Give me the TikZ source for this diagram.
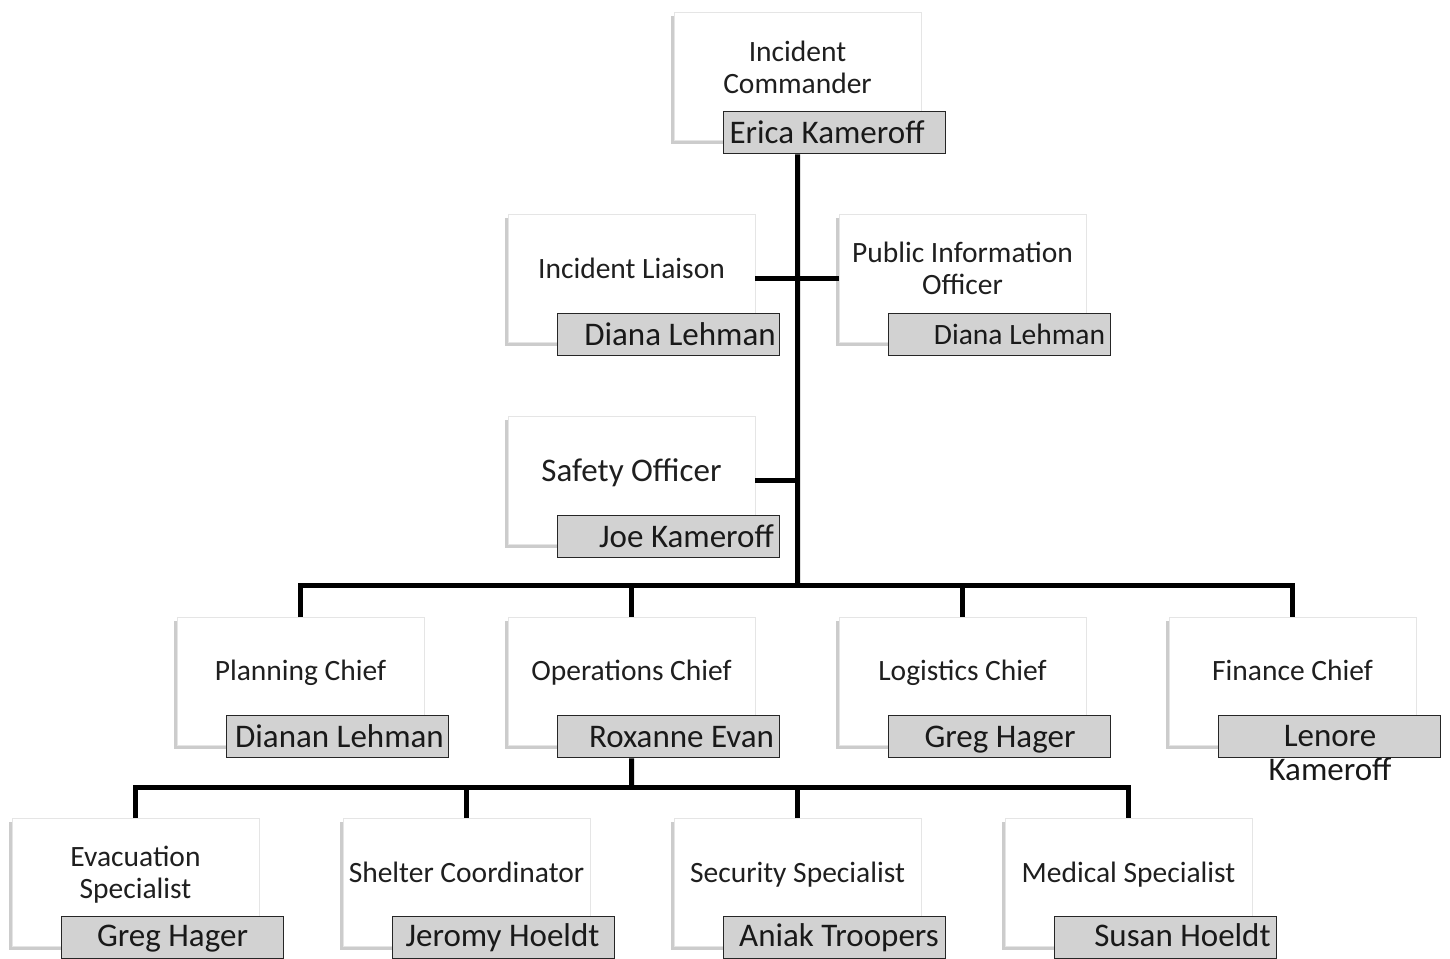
\documentclass[tikz,border=0pt]{standalone}
\usepackage{fontspec}
\setmainfont{Carlito}
\usetikzlibrary{shadows}
\definecolor{namegray}{RGB}{210,210,210}
\tikzset{
  rolebox/.style={draw=black!10, fill=white, minimum width=247pt, minimum height=128pt, inner sep=0pt, anchor=north west,
    drop shadow={shadow xshift=-3pt, shadow yshift=-4pt, fill=black!50, opacity=0.4}},
  namebox/.style={draw=black!85, line width=1.4pt, fill=namegray, minimum width=222pt, minimum height=42pt, inner sep=0pt, anchor=north west},
  roletitle/.style={font=\fontsize{29.5}{32}\selectfont, text=black!88, align=center, inner sep=0pt},
  persontext/.style={font=\fontsize{33}{34}\selectfont, text=black!90, align=center, inner sep=0pt},
  orglink/.style={line width=5pt, draw=black, line join=miter},
}
\begin{document}
\begin{tikzpicture}[x=1pt,y=-1pt]
\useasboundingbox (0,0) rectangle (1450,958);
% Incident Commander
\node[rolebox] (ic) at (674,12) {};
\node[roletitle] (ict) at (797.5,67) {Incident\\Commander};
\node[namebox] (icn) at (723,111) {};
\node[persontext, anchor=base] (icp) at (827,143) {Erica Kameroff};
% Incident Liaison
\node[rolebox] (li) at (508,214) {};
\node[roletitle, anchor=base] (lit) at (631.5,278) {Incident Liaison};
\node[namebox] (lin) at (557,313) {};
\node[persontext, anchor=base] (lip) at (680,345) {Diana Lehman};
% Public Information Officer
\node[rolebox] (pio) at (839,214) {};
\node[roletitle] (piot) at (962.5,268) {Public Information\\Officer};
\node[namebox] (pion) at (888,313) {};
\node[persontext, anchor=base, font=\fontsize{29.5}{32}\selectfont] (piop) at (1019.5,344) {Diana Lehman};
% Safety Officer
\node[rolebox] (so) at (508,416) {};
\node[roletitle, anchor=base, font=\fontsize{33}{34}\selectfont] (sot) at (631.5,481) {Safety Officer};
\node[namebox] (son) at (557,515) {};
\node[persontext, anchor=base] (sop) at (686.5,547) {Joe Kameroff};
% Chiefs
\node[rolebox] (pc) at (177,617) {};
\node[roletitle, anchor=base] (pct) at (300.5,680) {Planning Chief};
\node[namebox] (pcn) at (226,715) {};
\node[persontext, anchor=base] (pcp) at (339.5,747) {Dianan Lehman};
\node[rolebox] (oc) at (508,617) {};
\node[roletitle, anchor=base] (oct) at (631.5,680) {Operations Chief};
\node[namebox] (ocn) at (557,715) {};
\node[persontext, anchor=base] (ocp) at (681.5,747) {Roxanne Evan};
\node[rolebox] (lc) at (839,617) {};
\node[roletitle, anchor=base] (lct) at (962.5,680) {Logistics Chief};
\node[namebox] (lcn) at (888,715) {};
\node[persontext, anchor=base] (lcp) at (1000,747) {Greg Hager};
\node[rolebox] (fc) at (1169,617) {};
\node[roletitle, anchor=base] (fct) at (1292.5,680) {Finance Chief};
\node[namebox] (fcn) at (1218,715) {};
\node[persontext] (fcp) at (1330,753) {Lenore\\Kameroff};
% Operations staff
\node[rolebox] (ev) at (12,818) {};
\node[roletitle] (evt) at (135.5,875) {Evacuation\\Specialist};
\node[namebox] (evn) at (61,916) {};
\node[persontext, anchor=base] (evp) at (172.5,946) {Greg Hager};
\node[rolebox] (sh) at (343,818) {};
\node[roletitle, anchor=base] (sht) at (466.5,882) {Shelter Coordinator};
\node[namebox] (shn) at (392,916) {};
\node[persontext, anchor=base] (shp) at (502.5,946) {Jeromy Hoeldt};
\node[rolebox] (se) at (674,818) {};
\node[roletitle, anchor=base] (set) at (797.5,882) {Security Specialist};
\node[namebox] (sen) at (723,916) {};
\node[persontext, anchor=base] (sep) at (839,946) {Aniak Troopers};
\node[rolebox] (md) at (1005,818) {};
\node[roletitle, anchor=base] (mdt) at (1128.5,882) {Medical Specialist};
\node[namebox] (mdn) at (1054,916) {};
\node[persontext, anchor=base] (mdp) at (1182.5,946) {Susan Hoeldt};
% Connectors
\coordinate (bus1) at (797.5,585);
\coordinate (bus2) at (631.5,787);
\draw[orglink] (ic.center |- icn.south) -- (bus1);
\draw[orglink] (li.east) -- (pio.west);
\draw[orglink] (so.east) -- (so.east -| bus1);
\draw[orglink] (pc.north) |- (bus1) -| (fc.north);
\draw[orglink] (oc.north) -- (oc.north |- bus1);
\draw[orglink] (lc.north) -- (lc.north |- bus1);
\draw[orglink] (oc.center |- ocn.south) -- (bus2);
\draw[orglink] (ev.north) |- (bus2) -| (md.north);
\draw[orglink] (sh.north) -- (sh.north |- bus2);
\draw[orglink] (se.north) -- (se.north |- bus2);
\end{tikzpicture}
\end{document}
